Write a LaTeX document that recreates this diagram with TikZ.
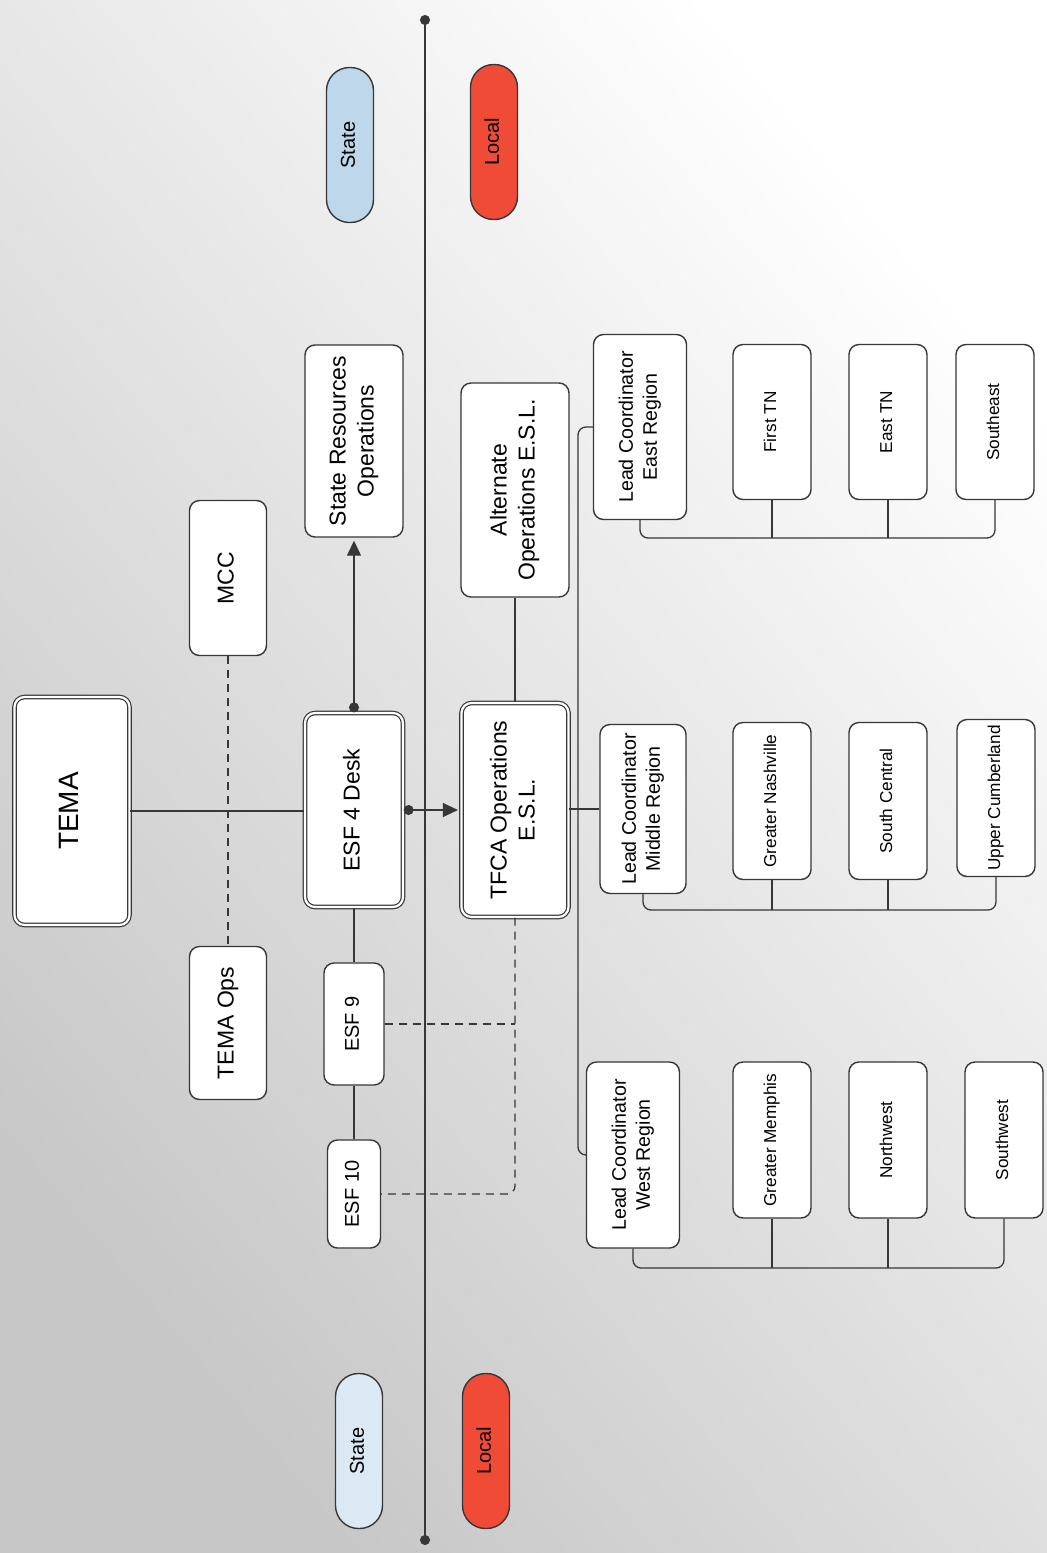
\documentclass[tikz,border=0pt]{standalone}
\usepackage{fontspec}
\setmainfont{Liberation Sans}
\usepackage{tikz}
\usetikzlibrary{positioning, arrows.meta}

\definecolor{stateblue}{RGB}{190,215,235}
\definecolor{localred}{RGB}{240,75,55}
\definecolor{edge}{RGB}{55,55,55}

% rotated text inside a box
\newcommand{\vtxt}[1]{\rotatebox{90}{\begin{tabular}{@{}c@{}}#1\end{tabular}}}

\tikzset{
  box/.style={draw=edge, line width=0.7pt, fill=white, rounded corners=5pt, inner sep=1pt},
  bigbox/.style={box, double=white, double distance=1.1pt, line width=0.6pt},
  pill/.style={draw=edge, line width=0.7pt, rounded corners=11.5pt, minimum width=23.5pt, minimum height=77.5pt,
    font=\fontsize{10}{12}\selectfont},
  link/.style={draw=edge, line width=0.65pt},
  dashlink/.style={link, dash pattern=on 4pt off 3pt},
  arrowlink/.style={link, {Circle[length=5pt]}-{Triangle[length=7.5pt, width=7pt]}, shorten >=1.5pt},
  mainfont/.style={font=\fontsize{11.5}{14}\selectfont},
  leadfont/.style={font=\fontsize{9.8}{12}\selectfont},
  smallfont/.style={font=\fontsize{8.6}{10}\selectfont},
  smallbox/.style={box, smallfont, minimum width=39pt, minimum height=78pt}
}

\begin{document}
\begin{tikzpicture}[x=0.5pt, y=-0.5pt]
    % Background
    \useasboundingbox (0,0) rectangle (1047,1553);
    \shade[top color=white, bottom color=black!22, shading angle=-50] (0,0) rectangle (1047,1553);

    % Divider between state and local
    \coordinate (topdot) at (425,15);
    \coordinate (botdot) at (425,1545);
    \draw[link, {Circle[length=5pt]}-{Circle[length=5pt]}] (topdot) -- (botdot);

    % Legend pills
    \node[pill, fill=stateblue] (stateA) at (350,145) {\vtxt{State}};
    \node[pill, fill=localred] (localA) at (494,142) {\vtxt{Local}};
    \node[pill, fill=stateblue!55!white] (stateB) at (359,1451) {\vtxt{State}};
    \node[pill, fill=localred] (localB) at (486,1451) {\vtxt{Local}};

    % State level
    \node[bigbox, font=\fontsize{14}{17}\selectfont, minimum width=57.5pt, minimum height=114pt] (tema) at (72,811) {\vtxt{TEMA}};
    \node[box, mainfont, minimum width=38.5pt, minimum height=77.5pt] (mcc) at (228,578) {\vtxt{MCC}};
    \node[box, mainfont, minimum width=38.5pt, minimum height=76.5pt] (temaops) at (228,1023) {\vtxt{TEMA Ops}};
    \node[box, mainfont, minimum width=49pt, minimum height=96pt] (stateres) at (354,441) {\vtxt{State Resources\\Operations}};
    \node[bigbox, mainfont, minimum width=49pt, minimum height=97pt] (esf4) at (354,810) {\vtxt{ESF 4 Desk}};
    \node[box, font=\fontsize{10}{12}\selectfont, minimum width=30pt, minimum height=61pt] (esf9) at (354,1024) {\vtxt{ESF 9}};
    \node[box, font=\fontsize{10}{12}\selectfont, minimum width=26.5pt, minimum height=54pt] (esf10) at (354,1194) {\vtxt{ESF 10}};

    % Local level
    \node[bigbox, mainfont, minimum width=53.5pt, minimum height=107pt] (tfca) at (515,810) {\vtxt{TFCA Operations\\E.S.L.}};
    \node[box, mainfont, minimum width=54pt, minimum height=107pt] (alt) at (515,490) {\vtxt{Alternate\\Operations E.S.L.}};

    % Regions
    \node[box, leadfont, minimum width=46.5pt, minimum height=92.5pt] (leadE) at (640,427) {\vtxt{Lead Coordinator\\East Region}};
    \node[box, leadfont, minimum width=43pt, minimum height=84.5pt] (leadM) at (643,809) {\vtxt{Lead Coordinator\\Middle Region}};
    \node[box, leadfont, minimum width=46.5pt, minimum height=93pt] (leadW) at (633,1155) {\vtxt{Lead Coordinator\\West Region}};

    \node[smallbox, minimum height=77.5pt] (firsttn) at (772,422) {\vtxt{First TN}};
    \node[smallbox, minimum height=77.5pt] (easttn) at (888,422) {\vtxt{East TN}};
    \node[smallbox, minimum height=77.5pt] (southeast) at (995,422) {\vtxt{Southeast}};

    \node[smallbox, minimum height=78.5pt] (greaternash) at (772,801) {\vtxt{Greater Nashville}};
    \node[smallbox, minimum height=78.5pt] (southcentral) at (888,801) {\vtxt{South Central}};
    \node[smallbox, minimum height=78.5pt] (uppercumb) at (996,798) {\vtxt{Upper Cumberland}};

    \node[smallbox] (greatermem) at (772,1140) {\vtxt{Greater Memphis}};
    \node[smallbox] (northwest) at (888,1140) {\vtxt{Northwest}};
    \node[smallbox] (southwest) at (1004,1140) {\vtxt{Southwest}};

    % State connectors
    \draw[link] (tema.east) -- (tema.east -| esf4.west);
    \draw[dashlink] (mcc) -- (temaops);
    \draw[arrowlink] (esf4.north) -- (stateres.south);
    \draw[arrowlink] (esf4.east) -- (tfca.west);
    \draw[link] (esf4) -- (esf9);
    \draw[link] (esf9) -- (esf10);

    % Dashed ties to ESF 9 and ESF 10
    \draw[dashlink, rounded corners=4pt] (tfca.south) |- (esf10.east);
    \draw[dashlink] (esf9.east) -- (esf9.east -| tfca.south);

    % Local connectors
    \draw[link] (tfca) -- (alt);
    \coordinate (leadbus) at (578,809);
    \draw[link] (tfca.east |- leadbus) -- (leadM.west);
    \draw[link, rounded corners=4pt] (leadE.west) -- (leadE.west -| leadbus) -- (leadW.west -| leadbus) -- (leadW.west);

    % Region buses
    \coordinate (eastbus) at (640,538);
    \coordinate (midbus) at (643,910);
    \coordinate (westbus) at (633,1268);
    \draw[link, rounded corners=4pt] (leadE.south) -- (leadE.south |- eastbus) -- (eastbus -| southeast.south) -- (southeast.south);
    \draw[link] (firsttn.south) -- (firsttn.south |- eastbus);
    \draw[link] (easttn.south) -- (easttn.south |- eastbus);
    \draw[link, rounded corners=4pt] (leadM.south) -- (leadM.south |- midbus) -- (midbus -| uppercumb.south) -- (uppercumb.south);
    \draw[link] (greaternash.south) -- (greaternash.south |- midbus);
    \draw[link] (southcentral.south) -- (southcentral.south |- midbus);
    \draw[link, rounded corners=4pt] (leadW.south) -- (leadW.south |- westbus) -- (westbus -| southwest.south) -- (southwest.south);
    \draw[link] (greatermem.south) -- (greatermem.south |- westbus);
    \draw[link] (northwest.south) -- (northwest.south |- westbus);
\end{tikzpicture}
\end{document}
